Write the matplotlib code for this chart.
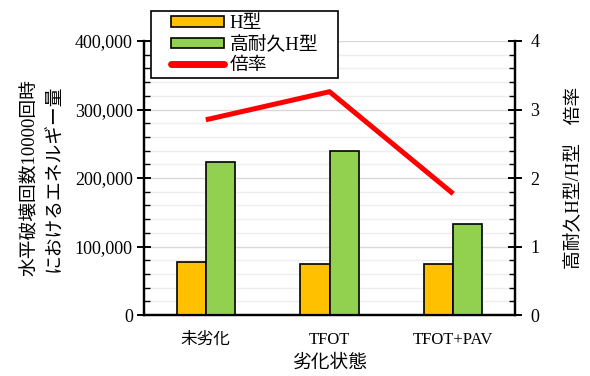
import matplotlib
matplotlib.use("Agg")
import matplotlib.pyplot as plt
from matplotlib.ticker import MultipleLocator, FuncFormatter
from matplotlib.patches import Rectangle
import numpy as np

plt.rcParams['font.family'] = ['Liberation Serif', 'Noto Sans CJK JP']

categories = ["未劣化", "TFOT", "TFOT+PAV"]
h_type = [78000, 74000, 74000]
high_durability = [223000, 239000, 133000]
ratio = [2.85, 3.26, 1.77]

fig = plt.figure(figsize=(5.9, 3.76), dpi=100)
ax = fig.add_axes([0.244, 0.162, 0.629, 0.729])
ax2 = ax.twinx()

x = np.arange(len(categories))
w = 0.235
ax.bar(x - w / 2, h_type, w, color="#FFC000", edgecolor="black", linewidth=1.2,
       label="H型", zorder=3)
ax.bar(x + w / 2, high_durability, w, color="#92D050", edgecolor="black", linewidth=1.2,
       label="高耐久H型", zorder=3)
ax2.plot(x, ratio, color="#FF0000", linewidth=3.6, label="倍率", solid_capstyle="butt")

ax.set_xlim(-0.5, 2.5)
ax.set_ylim(0, 400000)
ax2.set_ylim(0, 4)

ax.yaxis.set_major_locator(MultipleLocator(100000))
ax.yaxis.set_minor_locator(MultipleLocator(20000))
ax.yaxis.set_major_formatter(FuncFormatter(lambda v, p: f"{int(v):,}"))
ax2.yaxis.set_major_locator(MultipleLocator(1))
ax2.yaxis.set_minor_locator(MultipleLocator(0.2))

ax.grid(axis="y", which="major", color="#d9d9d9", linewidth=1.0, zorder=0)
ax.grid(axis="y", which="minor", color="#eeeeee", linewidth=1.0, zorder=0)
ax.set_axisbelow(True)

for a in (ax, ax2):
    for s in a.spines.values():
        s.set_linewidth(1.6)
        s.set_color("black")
    a.tick_params(axis="y", which="major", direction="inout", length=10, width=1.4,
                  labelsize=13, pad=3)
    a.tick_params(axis="y", which="minor", direction="in", length=4, width=1.0)
ax.spines["top"].set_visible(False)
ax2.spines["top"].set_visible(False)
ax2.tick_params(axis="y", which="major", pad=6)

ax.set_xticks(x)
ax.set_xticklabels(categories, fontsize=12)
ax.tick_params(axis="x", length=0, pad=12)

ax.set_xlabel("劣化状態", fontsize=13.5, labelpad=5)
ax.set_ylabel("水平破壊回数10000回時\nにおけるエネルギー量", fontsize=13.5, labelpad=8,
              linespacing=1.6)
ax2.set_ylabel("高耐久H型/H型　倍率", fontsize=13.5, labelpad=18)

h1, l1 = ax.get_legend_handles_labels()
h2, l2 = ax2.get_legend_handles_labels()
leg = fig.legend(h1 + h2, l1 + l2, loc="upper left", bbox_to_anchor=(0.287, 0.965),
                 fontsize=13.5, frameon=False, handlelength=2.8, handleheight=0.5,
                 borderpad=0.1, labelspacing=0.2, handletextpad=0.3, borderaxespad=0)
leg.set_zorder(10)
for lh in leg.legend_handles:
    if hasattr(lh, "set_solid_capstyle"):
        lh.set_solid_capstyle("round")
        lh.set_linewidth(5)

# white framed box behind the legend, padded wider than tall
fig.canvas.draw()
bb = leg.get_window_extent()
padx, pady = 18, 2
x0, y0 = fig.transFigure.inverted().transform((bb.x0 - padx, bb.y0 - pady))
x1, y1 = fig.transFigure.inverted().transform((bb.x1 + padx, bb.y1 + pady))
box = Rectangle((x0, y0), x1 - x0, y1 - y0, transform=fig.transFigure,
                facecolor="white", edgecolor="black", linewidth=1.2, zorder=9)
fig.add_artist(box)

fig.savefig("out.png", dpi=100)
